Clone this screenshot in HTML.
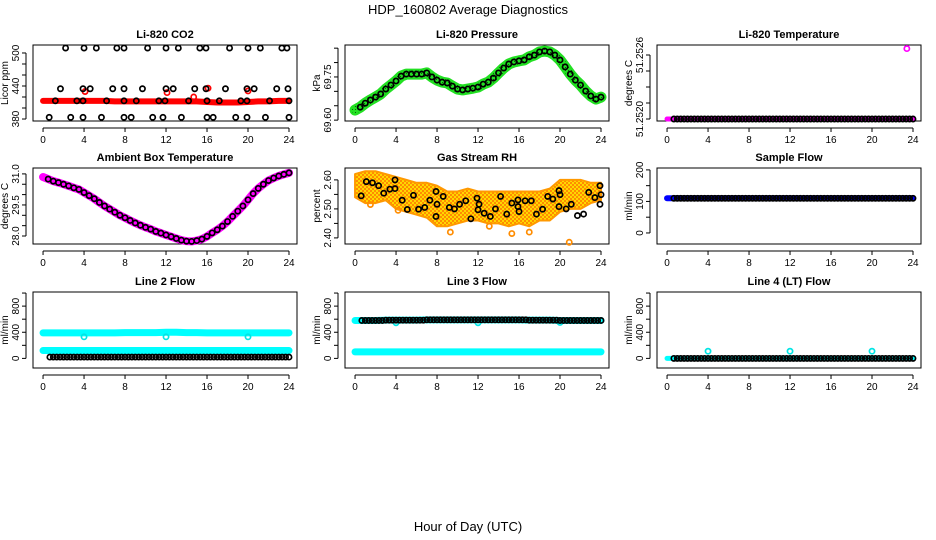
<!DOCTYPE html>
<html><head><meta charset="utf-8">
<style>
html,body{margin:0;padding:0;background:#fff;}
svg{display:block;font-family:"Liberation Sans",sans-serif;}
</style></head>
<body>
<svg id="chart" width="936" height="540" viewBox="0 0 936 540">
<defs>
<pattern id="orangePat" width="4" height="4" patternUnits="userSpaceOnUse">
<rect width="4" height="4" fill="#ffd700"/>
<rect x="0" y="0" width="2" height="2" fill="#ff8c00"/>
<rect x="2" y="2" width="2" height="2" fill="#ff8c00"/>
</pattern>
<pattern id="greenPat" width="3" height="3" patternUnits="userSpaceOnUse">
<rect width="3" height="3" fill="#22e022"/>
<rect x="1" y="1" width="1" height="1" fill="#0a600a"/>
</pattern>
</defs>
<text x="468" y="14" text-anchor="middle" font-size="13">HDP_160802  Average Diagnostics</text>
<text x="468" y="531" text-anchor="middle" font-size="13">Hour of Day (UTC)</text>
</svg>
<script>
// ---------- data ----------
const xTicks = [0, 4, 8, 12, 16, 20, 24];
// CO2
const co2TopHours = [2.2,4.0,5.2,7.2,7.9,10.2,12.0,13.2,15.3,15.9,18.2,20.0,21.2,23.3,23.8];
const co2MidHours = [1.7,3.9,4.6,6.8,7.9,9.7,12.0,12.7,14.8,15.9,17.8,19.9,20.6,22.8,23.9];
const co2BaseHours = [1.2,3.3,3.9,6.2,7.9,9.1,11.3,11.9,14.2,16.0,17.2,19.3,19.9,22.1,24.0];
const co2LowHours = [0.6,2.7,3.9,5.7,7.9,8.6,10.7,11.7,13.5,16.0,16.6,18.8,19.9,21.7,24.0];
const co2Levels = [509, 435, 413, 383];
const co2Red = [413,413,413,413,413,413,413,412,412,412,412,412,412,412,412,412,411,410,410,410,411,412,412,413,413];
const co2RedOutHours = [4.1, 12.1, 14.7, 16.1, 20.0];
const co2RedOutVals = [430, 428, 420, 436, 431];
// Pressure (every 0.5 h)
const pressure = [69.635,69.645,69.659,69.670,69.680,69.691,69.708,69.722,69.736,69.753,69.760,69.760,69.760,69.760,69.764,69.750,69.739,69.732,69.729,69.718,69.708,69.705,69.708,69.711,69.715,69.725,69.732,69.746,69.764,69.781,69.795,69.802,69.806,69.809,69.820,69.826,69.837,69.840,69.837,69.826,69.809,69.785,69.760,69.739,69.722,69.701,69.684,69.673,69.680];
// Li-820 temperature
const liTempBase = 51.2520;
const liTempOutHour = [23.4];
const liTempOutVal = [51.25266];
// Ambient box temperature (every 0.5 h)
const ambient = [30.85,30.75,30.65,30.58,30.5,30.42,30.33,30.25,30.1,29.95,29.8,29.62,29.45,29.3,29.15,29.0,28.88,28.75,28.63,28.52,28.42,28.33,28.22,28.14,28.05,27.97,27.88,27.8,27.75,27.74,27.78,27.85,27.98,28.15,28.3,28.48,28.7,28.95,29.2,29.45,29.75,30.05,30.3,30.5,30.68,30.8,30.9,30.98,31.05];
// Gas stream RH
const rhHours = [0.6,1.1,1.7,2.3,2.8,3.4,3.9,3.9,4.6,5.1,5.7,6.2,6.8,7.3,7.9,7.9,8.0,8.6,9.2,9.7,10.2,10.8,11.3,11.9,12.0,12.1,12.6,13.2,13.7,14.2,14.8,15.3,15.9,15.9,16.0,16.6,17.2,17.7,18.3,18.8,19.3,19.9,19.9,20.0,20.6,21.1,21.7,22.3,22.8,23.4,23.9,23.9,24.0];
const rhVals = [2.545,2.594,2.59,2.58,2.554,2.568,2.60,2.57,2.53,2.498,2.547,2.499,2.505,2.53,2.474,2.56,2.516,2.543,2.505,2.50,2.516,2.528,2.466,2.537,2.497,2.516,2.485,2.474,2.50,2.543,2.482,2.52,2.508,2.531,2.491,2.528,2.528,2.482,2.499,2.543,2.534,2.563,2.508,2.549,2.50,2.516,2.477,2.482,2.557,2.539,2.58,2.516,2.549];
const rhUpper = [2.62,2.63,2.63,2.62,2.61,2.60,2.59,2.59,2.58,2.56,2.56,2.57,2.56,2.56,2.56,2.56,2.56,2.56,2.56,2.57,2.60,2.60,2.60,2.59,2.59];
const rhLower = [2.54,2.52,2.52,2.53,2.50,2.49,2.48,2.47,2.44,2.44,2.45,2.46,2.46,2.45,2.45,2.44,2.45,2.44,2.46,2.46,2.49,2.50,2.50,2.52,2.53];
const rhOutHours = [1.5, 4.2, 9.3, 13.1, 15.3, 17.0, 20.9];
const rhOutVals = [2.515, 2.495, 2.42, 2.44, 2.415, 2.42, 2.385];
// Flows (hourly)
const sampleFlow = [110,110,110,110,110,110,110,110,110,110,110,110,110,110,110,110,110,110,110,110,110,110,110,110,110];
const line2High = [390,390,390,390,390,390,390,390,395,395,395,395,400,400,395,395,390,390,390,390,390,390,390,390,390];
const line2Low = [120,120,120,120,120,120,120,120,120,120,120,120,120,120,120,120,120,120,120,120,120,120,120,120,120];
const line2Black = [20,20,20,20,20,20,20,20,20,20,20,20,20,20,20,20,20,20,20,20,20,20,20,20,20];
const line3High = [580,580,580,585,585,585,585,590,590,590,590,590,590,590,590,590,590,585,585,585,580,580,580,580,580];
const line3Low = [100,100,100,100,100,100,100,100,100,100,100,100,100,100,100,100,100,100,100,100,100,100,100,100,100];
const line4 = [0,0,0,0,0,0,0,0,0,0,0,0,0,0,0,0,0,0,0,0,0,0,0,0,0];
const dipHours = [4, 12, 20];
const line2Dips = [330, 330, 330];
const line3Dips = [545, 545, 550];
const line4Dips = [110, 110, 110];

// ---------- drawing ----------
const svg = document.getElementById('chart');
const NS = 'http://www.w3.org/2000/svg';
function mk(tag, attrs, parent) {
  const e = document.createElementNS(NS, tag);
  for (const k in attrs) e.setAttribute(k, attrs[k]);
  (parent || svg).appendChild(e);
  return e;
}
function panel(col, row, title, ylab, ylim, yticks, ylabels, name) {
  const g = mk('g', {});
  
  
  const x0 = 33 + 312 * col, w = 264;
  const y0 = [45, 168, 292][row], h = 76;
  const xs = v => x0 + (v + 0.98) / 25.76 * w;
  const ys = v => y0 + h - (v - ylim[0]) / (ylim[1] - ylim[0]) * h;
  const t = mk('text', {x: x0 + w / 2, y: y0 - 7, 'text-anchor': 'middle', 'font-size': 11, 'font-weight': 'bold'}, g);
  t.textContent = title;
  
  
  const yl = mk('text', {transform: `translate(${x0 - 25},${y0 + h / 2}) rotate(-90)`, 'text-anchor': 'middle', 'font-size': 10}, g);
  yl.textContent = ylab;
  
  
  // x axis
  mk('line', {x1: xs(xTicks[0]), x2: xs(xTicks[xTicks.length - 1]), y1: y0 + h + 7, y2: y0 + h + 7, stroke: '#000'}, g);
  xTicks.forEach(v => {
    mk('line', {x1: xs(v), x2: xs(v), y1: y0 + h + 7, y2: y0 + h + 11, stroke: '#000'}, g);
    const lt = mk('text', {x: xs(v), y: y0 + h + 22, 'text-anchor': 'middle', 'font-size': 10}, g);
    lt.textContent = v;
    
    
  });
  // y axis
  mk('line', {x1: x0 - 7, x2: x0 - 7, y1: ys(yticks[0]), y2: ys(yticks[yticks.length - 1]), stroke: '#000'}, g);
  yticks.forEach(v => {
    mk('line', {x1: x0 - 11, x2: x0 - 7, y1: ys(v), y2: ys(v), stroke: '#000'}, g);
  });
  ylabels.forEach(v => {
    const lt = mk('text', {transform: `translate(${x0 - 14},${ys(v[0])}) rotate(-90)`, 'text-anchor': 'middle', 'font-size': 10}, g);
    lt.textContent = v[1];
    
    
  });
  const box = mk('rect', {x: x0, y: y0, width: w, height: h, fill: 'none', stroke: '#000'}, g);
  
  
  return {g, xs, ys};
}
function circ(p, x, y, color, name) {
  const c = mk('circle', {cx: p.xs(x), cy: p.ys(y), r: 2.6, fill: 'none', stroke: color, 'stroke-width': 1.7}, p.g);
  
  
  return c;
}
function band(p, hours, vals, color, width, name) {
  const pts = hours.map((hh, i) => p.xs(hh) + ',' + p.ys(vals[i])).join(' ');
  const l = mk('polyline', {points: pts, fill: 'none', stroke: color, 'stroke-width': width, 'stroke-linejoin': 'round', 'stroke-linecap': 'round'}, p.g);
  
  
  return l;
}
const hourly = xTicks.length ? Array.from({length: 25}, (_, i) => i) : [];
const half = Array.from({length: 49}, (_, i) => i * 0.5);
function stepCircles(p, vals, start, color, name) {
  vals.forEach((v, i) => {
    [0, 1/3, 2/3].forEach(o => {
      const hh = i + o;
      if (hh >= start && hh <= 24) circ(p, hh, v, color, name);
    });
  });
}

// Panel 1: CO2
let p = panel(0, 0, 'Li-820 CO2', 'Licor ppm', [376.4, 514.5], [380,400,420,440,460,480,500], [[380,'380'],[440,'440'],[500,'500']], 'co2');
band(p, hourly, co2Red, '#ff0000', 6, 'co2-red-series');
co2RedOutHours.forEach((hh, i) => circ(p, hh, co2RedOutVals[i], '#ff0000', 'co2-red-outlier'));
[co2TopHours, co2MidHours, co2BaseHours, co2LowHours].forEach((arr, k) => arr.forEach(hh => circ(p, hh, co2Levels[k], '#000', 'co2-black-point')));

// Panel 2: Pressure
p = panel(1, 0, 'Li-820 Pressure', 'kPa', [69.597, 69.861], [69.60,69.65,69.70,69.75,69.80,69.85], [[69.60,'69.60'],[69.75,'69.75']], 'pressure');
band(p, half, pressure, '#22e022', 11, 'pressure-green-series');
band(p, half, pressure, 'url(#greenPat)', 7, 'pressure-green-texture');
half.forEach((hh, i) => { if (hh > 0) circ(p, hh, pressure[i], '#000', 'pressure-black-point'); });

// Panel 3: Li-820 Temperature
p = panel(2, 0, 'Li-820 Temperature', 'degrees C', [51.2519813, 51.2526938], [51.2520,51.25215,51.2523,51.25245,51.2526], [[51.2520,'51.2520'],[51.2526,'51.2526']], 'li-temp');
band(p, [0, 24], [liTempBase, liTempBase], '#ff00ff', 5, 'li-temp-magenta-series');
stepCircles(p, sampleFlow.map(() => liTempBase), 0.5, '#000', 'li-temp-black-point');
liTempOutHour.forEach((hh, i) => circ(p, hh, liTempOutVal[i], '#ff00ff', 'li-temp-outlier'));

// Panel 4: Ambient
p = panel(0, 1, 'Ambient Box Temperature', 'degrees C', [27.614, 31.285], [28,28.5,29,29.5,30,30.5,31], [[28,'28.0'],[29.5,'29.5'],[31,'31.0']], 'ambient');
band(p, half, ambient, '#ff00ff', 8, 'ambient-magenta-series');
half.forEach((hh, i) => { if (hh > 0) circ(p, hh, ambient[i], '#000', 'ambient-black-point'); });

// Panel 5: RH
p = panel(1, 1, 'Gas Stream RH', 'percent', [2.379, 2.641], [2.40,2.45,2.50,2.55,2.60], [[2.40,'2.40'],[2.50,'2.50'],[2.60,'2.60']], 'rh');
{
  const pts = hourly.map((hh, i) => p.xs(hh) + ',' + p.ys(rhUpper[i])).concat(hourly.slice().reverse().map(hh => p.xs(hh) + ',' + p.ys(rhLower[hh]))).join(' ');
  const poly = mk('polygon', {points: pts, fill: 'url(#orangePat)', stroke: '#ff9900', 'stroke-width': 2, 'stroke-linejoin': 'round'}, p.g);
  
  
}
rhOutHours.forEach((hh, i) => circ(p, hh, rhOutVals[i], '#ff8c00', 'rh-orange-outlier'));
rhHours.forEach((hh, i) => circ(p, hh, rhVals[i], '#000', 'rh-black-point'));

// Panel 6: Sample Flow
p = panel(2, 1, 'Sample Flow', 'ml/min', [-35, 206], [0,50,100,150,200], [[0,'0'],[100,'100'],[200,'200']], 'sample-flow');
band(p, hourly, sampleFlow, '#0000ff', 6, 'sample-flow-blue-series');
stepCircles(p, sampleFlow, 0.5, '#000', 'sample-flow-black-point');

// Panel 7: Line 2
const flowTicks = [0,200,400,600,800,1000];
const flowLabels = [[0,'0'],[400,'400'],[800,'800']];
p = panel(0, 2, 'Line 2 Flow', 'ml/min', [-147, 1016], flowTicks, flowLabels, 'line2-flow');
band(p, hourly, line2High, '#00ffff', 7, 'line2-cyan-high');
band(p, hourly, line2Low, '#00ffff', 7, 'line2-cyan-low');
dipHours.forEach((hh, i) => circ(p, hh, line2Dips[i], '#00e5e5', 'line2-cyan-dip'));
stepCircles(p, line2Black, 0.6, '#000', 'line2-black-point');

// Panel 8: Line 3
p = panel(1, 2, 'Line 3 Flow', 'ml/min', [-147, 1016], flowTicks, flowLabels, 'line3-flow');
band(p, hourly, line3High, '#00ffff', 7, 'line3-cyan-high');
band(p, hourly, line3Low, '#00ffff', 7, 'line3-cyan-low');
dipHours.forEach((hh, i) => circ(p, hh, line3Dips[i], '#00e5e5', 'line3-cyan-dip'));
stepCircles(p, line3High, 0.6, '#000', 'line3-black-point');

// Panel 9: Line 4
p = panel(2, 2, 'Line 4 (LT) Flow', 'ml/min', [-147, 1016], flowTicks, flowLabels, 'line4-flow');
band(p, hourly, line4, '#00ffff', 5, 'line4-cyan-series');
dipHours.forEach((hh, i) => circ(p, hh, line4Dips[i], '#00e5e5', 'line4-cyan-outlier'));
stepCircles(p, line4, 0.6, '#000', 'line4-black-point');
</script>
</body></html>
